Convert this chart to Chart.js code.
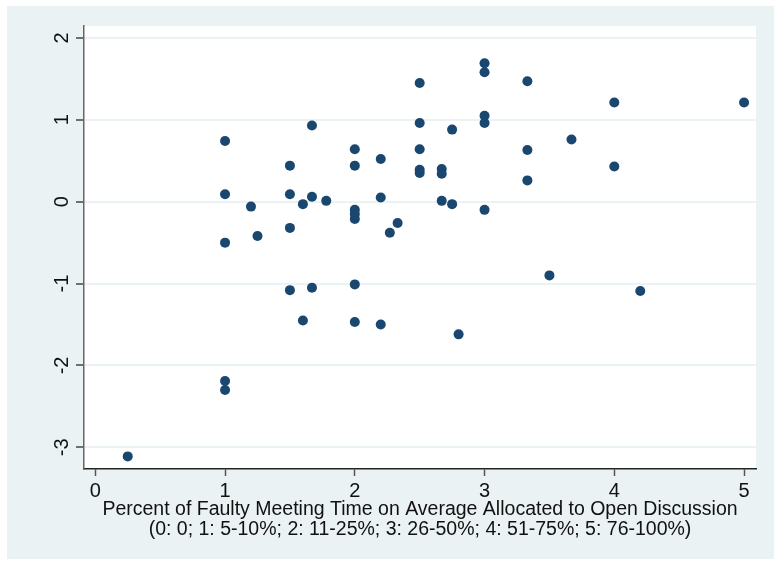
<!DOCTYPE html>
<html>
<head>
<meta charset="utf-8">
<script src="https://cdn.jsdelivr.net/npm/chart.js@4/dist/chart.umd.min.js"></script>
<style>
    html, body { margin: 0; padding: 0; background: #ffffff; }
    #wrap { width: 774px; height: 561px; }
</style>
</head>
<body>
<div id="wrap"><canvas id="scatterChart" width="774" height="561"></canvas></div>
<script>
const xValues = [0.25, 1, 1, 1, 1, 1, 1.2, 1.25, 1.5, 1.5, 1.5, 1.5, 1.6, 1.6, 1.67, 1.67, 1.67, 1.78,
    2, 2, 2, 2, 2, 2, 2, 2.2, 2.2, 2.2, 2.27, 2.33, 2.5, 2.5, 2.5, 2.5, 2.5, 2.67, 2.67, 2.67,
    2.75, 2.75, 2.8, 3, 3, 3, 3, 3, 3.33, 3.33, 3.33, 3.5, 3.67, 4, 4, 4.2, 5];
const yValues = [-3.11, 0.74, 0.09, -0.50, -2.19, -2.30, -0.06, -0.42, 0.44, 0.09, -0.32, -1.08, -0.03, -1.45, 0.93, 0.06, -1.05, 0.01,
    0.64, 0.44, -0.10, -0.15, -0.21, -1.01, -1.47, 0.52, 0.05, -1.50, -0.38, -0.26, 1.45, 0.96, 0.64, 0.39, 0.35, 0.40, 0.34, 0.01,
    0.88, -0.03, -1.62, 1.69, 1.58, 1.05, 0.96, -0.10, 1.47, 0.63, 0.26, -0.90, 0.76, 1.21, 0.43, -1.09, 1.21];
const xTicks = [0, 1, 2, 3, 4, 5];
const yTicks = [-3, -2, -1, 0, 1, 2];
const xTitle = [
    'Percent of Faulty Meeting Time on Average Allocated to Open Discussion',
    '(0: 0; 1: 5-10%; 2: 11-25%; 3: 26-50%; 4: 51-75%; 5: 76-100%)',
];

const FONT = '"Liberation Sans", Arial, sans-serif';

// stata style background + rotated y labels
const stataFrame = {
    id: 'stataFrame',
    beforeDraw(chart) {
        const { ctx, chartArea } = chart;
        ctx.save();
        ctx.fillStyle = '#eaf2f3';
        ctx.fillRect(7, 6, 767, 553);
        ctx.fillStyle = '#ffffff';
        ctx.fillRect(chartArea.left, chartArea.top, chartArea.right - chartArea.left, chartArea.bottom - chartArea.top);
        ctx.restore();
    },
    afterDraw(chart) {
        const { ctx } = chart;
        const y = chart.scales.y;
        ctx.save();
        ctx.fillStyle = '#111111';
        ctx.font = '20px ' + FONT;
        ctx.textAlign = 'center';
        ctx.textBaseline = 'middle';
        yTicks.forEach(v => {
            ctx.save();
            ctx.translate(62, y.getPixelForValue(v));
            ctx.rotate(-Math.PI / 2);
            ctx.fillText(String(v), 0, 0);
            ctx.restore();
        });
        ctx.restore();
    },
};

new Chart(document.getElementById('scatterChart'), {
    type: 'scatter',
    data: {
        datasets: [{
            data: xValues.map((x, i) => ({ x: x, y: yValues[i] })),
            backgroundColor: '#1a476f',
            borderColor: '#1a476f',
            borderWidth: 0,
            pointRadius: 5,
        }],
    },
    options: {
        responsive: false,
        animation: false,
        devicePixelRatio: 1,
        layout: {
            padding: { left: 0, top: 26, right: 18, bottom: 0 },
        },
        plugins: {
            legend: { display: false },
            tooltip: { enabled: false },
        },
        scales: {
            x: {
                type: 'linear',
                min: -0.087,
                max: 5.092,
                afterBuildTicks: s => { s.ticks = xTicks.map(v => ({ value: v })); },
                afterFit: s => { s.height = 92; },
                border: { color: '#222222', width: 1.5 },
                grid: {
                    drawOnChartArea: false,
                    drawTicks: true,
                    tickLength: 7,
                    tickColor: '#555555',
                    tickWidth: 1.5,
                },
                ticks: {
                    color: '#111111',
                    font: { family: FONT, size: 20 },
                    padding: 3,
                    maxRotation: 0,
                },
                title: {
                    display: true,
                    text: xTitle,
                    color: '#111111',
                    font: { family: FONT, size: 19.5, lineHeight: 1.03 },
                    padding: { top: 0, bottom: 21 },
                },
            },
            y: {
                type: 'linear',
                min: -3.264,
                max: 2.145,
                afterBuildTicks: s => { s.ticks = yTicks.map(v => ({ value: v })); },
                afterFit: s => { s.width = 84; },
                border: { color: '#666666', width: 1.5 },
                grid: {
                    color: '#eaf2f3',
                    lineWidth: 2,
                    drawTicks: true,
                    tickLength: 8,
                    tickColor: '#444444',
                    tickWidth: 1.5,
                },
                ticks: { display: false },
            },
        },
    },
    plugins: [stataFrame],
});
</script>
</body>
</html>
